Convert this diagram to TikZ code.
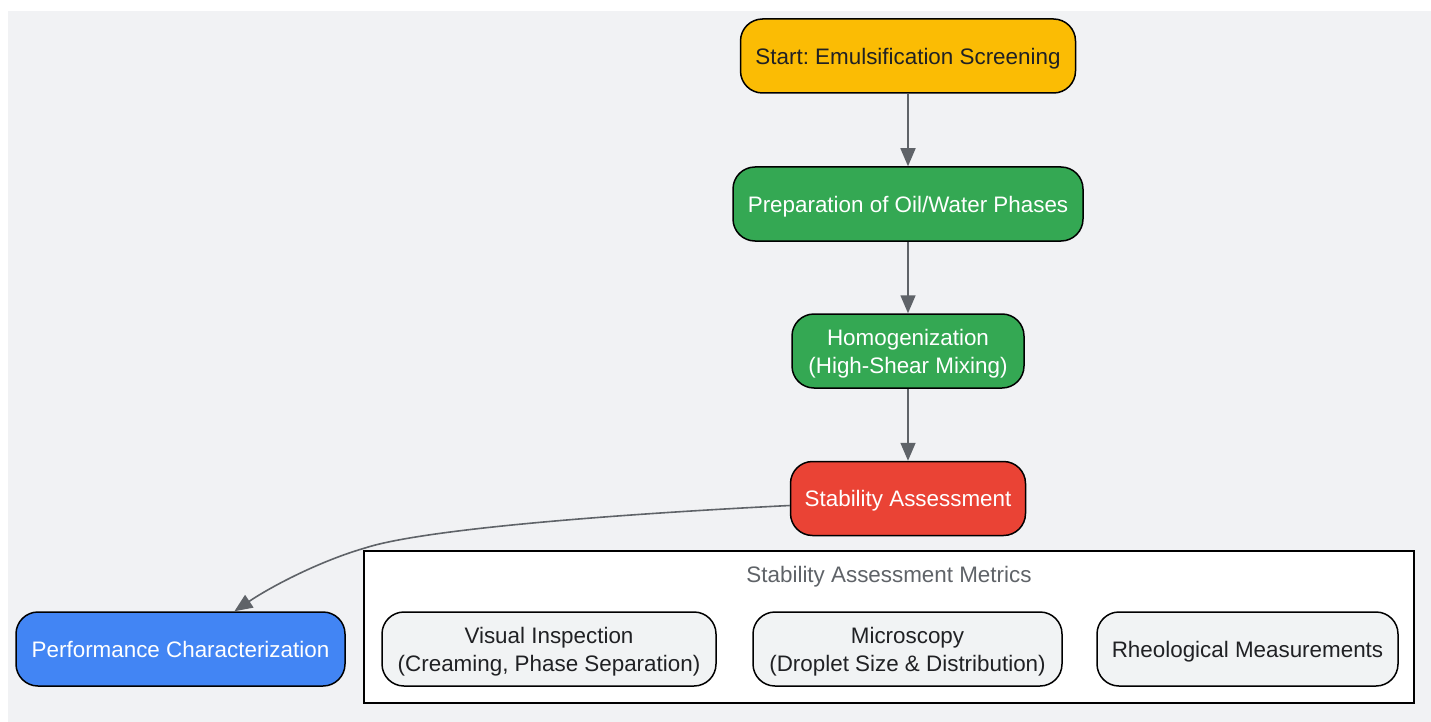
\documentclass[tikz,border=0pt]{standalone}
\usepackage{fontspec}
\setmainfont{Liberation Sans}
\usetikzlibrary{arrows.meta}
\usepackage{xcolor}
\definecolor{canvasgray}{HTML}{F1F2F4}
\definecolor{startyellow}{HTML}{FBBC04}
\definecolor{stepgreen}{HTML}{34A853}
\definecolor{checkred}{HTML}{EA4335}
\definecolor{perfblue}{HTML}{4285F4}
\definecolor{metricgray}{HTML}{F1F3F4}
\definecolor{inkdark}{HTML}{202124}
\definecolor{linkgray}{HTML}{5F6368}
\frenchspacing

\begin{document}
\begin{tikzpicture}[x=1pt, y=-1pt]
        % ================= styles =================
        \tikzset{
            % rounded process box
            stepbox/.style={draw=black, line width=1.5pt, rounded corners=22pt, minimum height=74pt, inner sep=0pt, text depth=0pt, align=center, font=\fontsize{22.4}{28}\selectfont},
            % metric box inside the group
            metricbox/.style={stepbox, fill=metricgray, text=inkdark},
            % group frame
            groupbox/.style={draw=black, line width=1.5pt, fill=white},
            % connectors
            flow/.style={line width=1.6pt, linkgray, -{Triangle[length=18pt, width=15pt]}}
        }
        \useasboundingbox (0,0) rectangle (1431,722);
        \fill[canvasgray] (8,11) rectangle (1431,722);

        % ================= main chain =================
        \node[stepbox, fill=startyellow, text=inkdark, minimum width=335pt] (start) at (908,56) {Start: Emulsification Screening};
        \node[stepbox, fill=stepgreen, text=white, minimum width=350pt] (prep) at (908,204) {Preparation of Oil/Water Phases};
        \node[stepbox, fill=stepgreen, text=white, minimum width=232pt] (homog) at (908,351) {Homogenization\\(High-Shear Mixing)};
        \node[stepbox, fill=checkred, text=white, minimum width=235pt] (stab) at (908,498.5) {Stability Assessment};
        \node[stepbox, fill=perfblue, text=white, minimum width=329pt] (perf) at (180.5,649) {Performance Characterization};

        % ================= metrics group =================
        \draw[groupbox] (364,551) rectangle (1414,703);
        \node[text=linkgray, font=\fontsize{22.4}{28}\selectfont] (grouplabel) at (889,577) {Stability Assessment Metrics};
        \node[metricbox, minimum width=334pt] (visual) at (549,649) {Visual Inspection\\(Creaming, Phase Separation)};
        \node[metricbox, minimum width=309pt] (micro) at (907.5,649) {Microscopy\\(Droplet Size \& Distribution)};
        \node[metricbox, minimum width=301pt] (rheo) at (1247.5,649) {Rheological Measurements};

        % ================= connectors =================
        \draw[flow] (start) -- (prep);
        \draw[flow] (prep) -- (homog);
        \draw[flow] (homog) -- (stab);
        \draw[flow] ([yshift=-7pt]stab.west) .. controls (600,515) and (420,530) .. (365,548)
            .. controls (320,561) and (272,586) .. (perf.35);

    \end{tikzpicture}
\end{document}
